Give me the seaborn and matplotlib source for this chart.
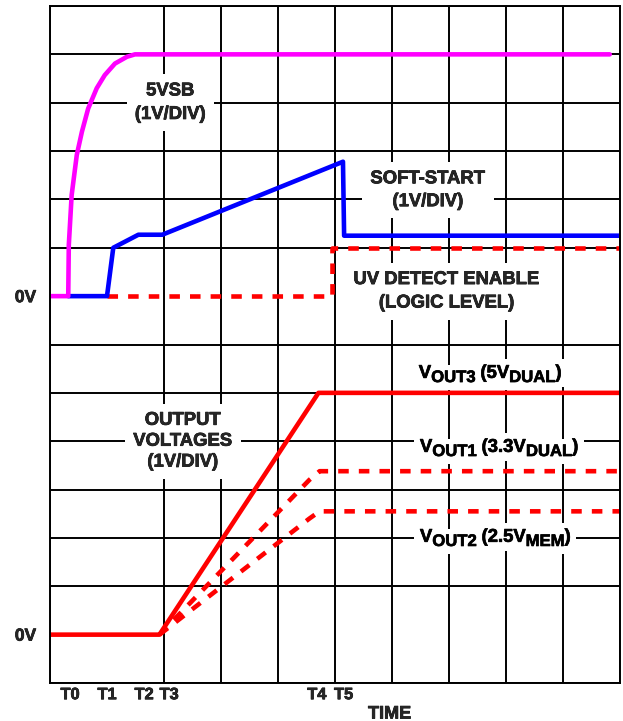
import numpy as np
import matplotlib
matplotlib.use('Agg')
import matplotlib.pyplot as plt
import matplotlib.patheffects as pe
import seaborn as sns

# x in grid divisions (time), y in grid divisions from the bottom edge
vsb_t = [0, 0.32, 0.33, 0.38, 0.47, 0.56, 0.67, 0.82, 0.96, 1.14, 1.35, 1.49, 9.82]
vsb_v = [8, 8, 9.06, 10.09, 10.92, 11.40, 11.88, 12.30, 12.57, 12.81, 12.95, 13.0, 13.0]
ss_t = [0.32, 1.0, 1.11, 1.55, 1.97, 5.14, 5.16, 10]
ss_v = [8, 8, 9.0, 9.27, 9.27, 10.78, 9.25, 9.25]
uv_t = [1.0, 4.95, 4.95, 10]
uv_v = [8, 8, 9, 9]
vout3_t = [0, 1.92, 4.71, 10]
vout3_v = [1, 1, 6, 6]
vout1_t = [1.92, 4.55, 4.73, 10]
vout1_v = [1, 4.2, 4.38, 4.38]
vout2_t = [1.92, 4.55, 4.73, 10]
vout2_v = [1, 3.4, 3.55, 3.55]

tick_pos = [0.35, 1.0, 1.65, 2.09, 4.68, 5.15]
tick_lbl = ['T0', 'T1', 'T2', 'T3', 'T4', 'T5']

sns.set_style('white')
plt.rcParams['font.family'] = ['Liberation Sans', 'DejaVu Sans']
plt.rcParams['font.weight'] = 'bold'

# slightly heavier lettering, like the original print
heavy = [pe.withStroke(linewidth=0.5, foreground='black')]

fig = plt.figure(figsize=(6.23, 7.21), dpi=100)
ax = fig.add_axes([50 / 623, 1 - 683 / 721, 570 / 623, 677 / 721])

LW = 3.3
DASH = (0, (2.3, 2.2))
RED, BLUE, MAG = '#FF0000', '#0000FF', '#FF00FF'

sns.lineplot(x=uv_t, y=uv_v, sort=False, estimator=None, color=RED, lw=LW, ls=DASH, ax=ax)
sns.lineplot(x=ss_t, y=ss_v, sort=False, estimator=None, color=BLUE, lw=LW, ax=ax)
sns.lineplot(x=vsb_t, y=vsb_v, sort=False, estimator=None, color=MAG, lw=LW, ax=ax)
sns.lineplot(x=vout1_t, y=vout1_v, sort=False, estimator=None, color=RED, lw=LW, ls=DASH, ax=ax)
sns.lineplot(x=vout2_t, y=vout2_v, sort=False, estimator=None, color=RED, lw=LW, ls=DASH, ax=ax)
sns.lineplot(x=vout3_t, y=vout3_v, sort=False, estimator=None, color=RED, lw=LW, ax=ax)

ax.set_xlim(0, 10)
ax.set_ylim(0, 14)
ax.set_xticks(np.arange(11), minor=True)
ax.set_yticks(np.arange(15), minor=True)
ax.set_xticks(tick_pos, tick_lbl, fontsize=11.8, fontweight='bold')
ax.set_yticks([1, 8], ['0V', '0V'], fontsize=12.5, fontweight='bold')
ax.tick_params(which='both', length=0)
ax.tick_params(axis='x', pad=3)
ax.tick_params(axis='y', pad=10)
ax.grid(False, which='major')
ax.grid(True, which='minor', color='black', lw=1.4)
ax.set_axisbelow(True)
for sp in ax.spines.values():
    sp.set_color('black')
    sp.set_linewidth(1.4)
for lbl in ax.get_xticklabels() + ax.get_yticklabels():
    lbl.set_path_effects(heavy)

ax.set_xlabel('TIME', fontsize=13, fontweight='bold', va='center', path_effects=heavy)
ax.xaxis.set_label_coords(0.596, -0.0458)

box = dict(facecolor='white', edgecolor='none', boxstyle='square,pad=0.45')
blocks = [
    (2.11, 12.0, '5VSB\n(1V/DIV)', 1.5),
    (6.63, 10.19, 'SOFT-START\n(1V/DIV)', 1.45),
    (6.96, 8.1, 'UV DETECT ENABLE\n(LOGIC LEVEL)', 1.5),
    (2.33, 5.0, 'OUTPUT\nVOLTAGES\n(1V/DIV)', 1.3),
]
for x, y, s, lsp in blocks:
    ax.text(x, y, s, ha='center', va='center', ma='center', fontsize=13.3,
            fontweight='bold', linespacing=lsp, bbox=box, zorder=1.5,
            path_effects=heavy)

sub_box = dict(facecolor='white', edgecolor='none', boxstyle='square,pad=0.3')


def chain(x, y, parts, color, bbox, z, effects):
    prev = None
    for s, low in parts:
        dy = -3 if low else 0
        size = 12 if low else 13.3
        if prev is None:
            xy, coords = (x, y), 'data'
        else:
            xy, coords = (1, y), (prev, 'data')
        prev = ax.annotate(s, xy=xy, xycoords=coords, xytext=(0, dy),
                           textcoords='offset points', ha='left', va='baseline',
                           fontsize=size, fontweight='bold', color=color,
                           bbox=bbox, zorder=z, path_effects=effects)


def sub_label(x, y, parts):
    # white backing first, then the visible text on top of it
    chain(x, y, parts, 'none', sub_box, 1.4, None)
    chain(x, y, parts, 'black', None, 1.6, heavy)


sub_label(6.47, 6.31, [('V', 0), ('OUT3', 1), (' (5V', 0), ('DUAL', 1), (')', 0)])
sub_label(6.49, 4.78, [('V', 0), ('OUT1', 1), (' (3.3V', 0), ('DUAL', 1), (')', 0)])
sub_label(6.49, 2.92, [('V', 0), ('OUT2', 1), (' (2.5V', 0), ('MEM', 1), (')', 0)])

fig.savefig('out.png', dpi=100)
